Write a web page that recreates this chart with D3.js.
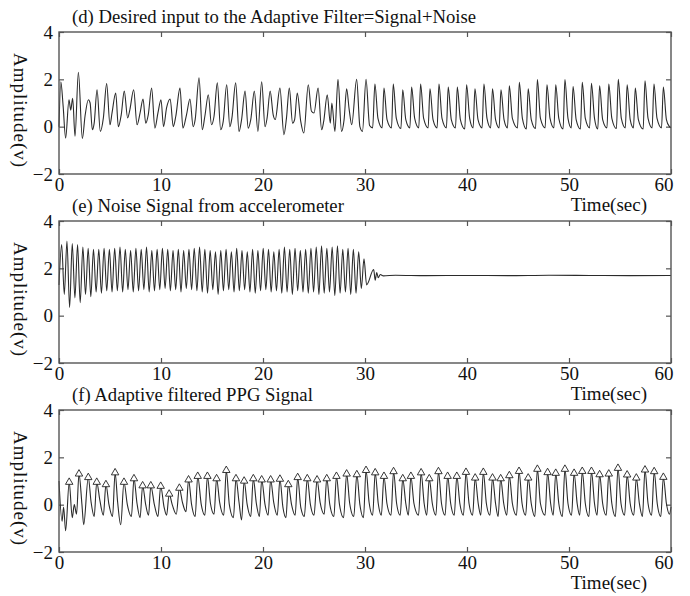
<!DOCTYPE html>
<html>
<head>
<meta charset="utf-8">
<script src="https://cdn.jsdelivr.net/npm/d3@7"></script>
<style>
  body { margin: 0; background: #fff; }
  text { font-family: "Liberation Serif", "Times New Roman", serif; fill: #111; }
</style>
</head>
<body>
<div id="chart"></div>
<script>
// ---- data ----
const xTicks = [0, 10, 20, 30, 40, 50, 60];
const yTicks = [-2, 0, 2, 4];
const panelTitles = [
    "(d) Desired input to the Adaptive Filter=Signal+Noise",
    "(e) Noise Signal from accelerometer",
    "(f) Adaptive filtered PPG Signal"
];
const yLabel = "Amplitude(v)";
const xLabel = "Time(sec)";

// (d) signal + noise, [time, amplitude] turning points
const desiredInput = [
    [0,0.0],[0.18,1.9],[0.4,0.9],[0.65,-0.48],[0.98,1.14],[1.15,0.7],[1.34,1.2],[1.57,-0.4],[1.9,2.3],[2.29,-0.5],
    [2.55,0.44],[2.88,1.14],[3.05,1.0],[3.27,-0.13],[3.45,0.15],[3.73,1.56],[4.05,-0.2],[4.35,0.37],[4.67,1.82],[5.0,0.08],
    [5.2,0.58],[5.56,1.42],[5.82,0.0],[6.1,0.5],[6.4,1.5],[6.73,0.37],[6.95,0.72],[7.32,1.56],[7.65,0.08],[7.95,0.58],
    [8.24,1.17],[8.5,0.15],[8.75,0.5],[9.08,1.63],[9.4,-0.06],[9.7,0.58],[10.0,1.14],[10.25,0.0],[10.55,0.8],[10.9,1.17],
    [11.2,0.0],[11.45,0.44],[11.86,1.63],[12.15,-0.06],[12.5,0.5],[12.84,1.17],[13.15,0.0],[13.35,0.3],[13.73,2.06],[14.05,-0.13],
    [14.3,0.44],[14.64,1.35],[14.95,0.08],[15.2,0.44],[15.52,1.85],[15.85,-0.13],[16.1,0.22],[16.44,1.77],[16.75,0.0],[16.95,0.36],
    [17.32,1.85],[17.65,-0.2],[17.9,0.3],[18.24,1.5],[18.55,-0.06],[18.8,0.3],[19.15,1.5],[19.5,-0.2],[19.87,1.9],[20.2,0.0],
    [20.4,0.36],[20.7,1.5],[21.0,0.5],[21.2,0.3],[21.66,1.63],[22.05,-0.34],[22.3,0.36],[22.58,1.63],[22.9,0.15],[23.1,0.3],
    [23.36,1.42],[23.7,0.22],[24.0,-0.27],[24.44,1.77],[24.75,0.65],[25.0,0.58],[25.4,1.63],[25.75,-0.13],[25.95,0.22],[26.3,1.35],
    [26.6,0.15],[26.75,1.0],[27.05,-0.2],[27.35,2.0],[27.7,-0.2],[27.95,0.3],[28.2,1.6],[28.45,0.72],[28.7,0.08],[29.18,2.0],
    [29.5,0.0],[29.75,-0.2],[30.1,2.0],[30.45,0.05],[30.75,-0.05],
    [30.97,1.8],[31.27,0.35],[31.68,-0.05],[31.86,1.63],[32.16,0.3],[32.6,-0.05],[32.77,1.8],[33.07,0.35],[33.52,-0.08],
    [33.7,1.56],[34.0,0.3],[34.4,-0.05],[34.57,1.67],[34.87,0.35],[35.27,-0.05],[35.45,1.8],[35.75,0.35],[36.19,-0.05],
    [36.37,1.6],[36.67,0.3],[37.07,-0.05],[37.25,1.8],[37.55,0.35],[37.98,-0.05],[38.16,1.67],[38.46,0.3],[38.87,-0.05],
    [39.05,1.67],[39.35,0.3],[39.78,-0.1],[39.96,1.77],[40.26,0.35],[40.6,-0.05],[40.78,1.6],[41.08,0.3],[41.48,-0.05],
    [41.66,1.8],[41.96,0.35],[42.32,-0.05],[42.5,1.6],[42.8,0.3],[43.15,-0.05],[43.33,1.56],[43.63,0.3],[43.97,-0.05],
    [44.15,1.73],[44.45,0.35],[44.95,-0.05],[45.13,1.87],[45.43,0.35],[45.82,-0.1],[46.0,1.6],[46.3,0.3],[46.72,-0.08],
    [46.9,1.99],[47.2,0.35],[47.66,-0.05],[47.84,1.77],[48.14,0.35],[48.52,-0.05],[48.7,1.77],[49.0,0.35],[49.42,-0.1],
    [49.6,1.99],[49.9,0.35],[50.22,-0.05],[50.4,1.7],[50.7,0.3],[51.12,-0.1],[51.3,1.87],[51.6,0.35],[52.02,-0.05],
    [52.2,1.83],[52.5,0.35],[52.82,-0.1],[53.0,1.73],[53.3,0.3],[53.72,-0.05],[53.9,1.8],[54.2,0.35],[54.65,-0.08],
    [54.83,2.0],[55.13,0.35],[55.52,-0.05],[55.7,1.77],[56.0,0.3],[56.32,-0.05],[56.5,1.63],[56.8,0.3],[57.27,-0.1],
    [57.45,1.94],[57.75,0.35],[58.15,-0.05],[58.33,1.8],[58.63,0.35],[59.07,-0.05],[59.25,1.67],[59.55,0.3],[59.85,0.0],[60,-0.05]
];

// (e) accelerometer noise: alternating extremes, sampled every half cycle
const noiseDt = 0.26;
const noiseExtremes = [
    1.3, 3.0, 0.9, 3.15, 0.35, 3.05, 0.75, 3.0, 0.55, 2.9, 0.9, 2.85, 0.8, 2.8, 1.0, 2.8, 0.95, 2.85, 1.05,
    2.8, 1.0, 2.85, 1.05, 2.9, 1.0, 2.8, 1.1, 2.75, 1.0, 2.85, 1.05, 2.8, 1.1, 2.9, 1.0, 2.75, 1.05, 2.8, 1.1,
    2.85, 1.15, 2.8, 1.05, 2.75, 1.1, 2.8, 1.0, 2.75, 1.15, 2.8, 1.1, 2.85, 1.05, 2.9, 1.0, 2.8, 0.95, 2.75, 1.1,
    2.7, 0.9, 2.75, 1.05, 2.8, 1.1, 2.7, 1.0, 2.85, 1.05, 2.75, 1.1, 2.7, 1.0, 2.8, 0.95, 2.75, 1.05, 2.85, 1.1,
    2.8, 1.0, 2.7, 1.05, 2.8, 0.95, 2.9, 1.0, 2.8, 0.9, 2.85, 1.05, 2.75, 1.0, 2.8, 0.95, 2.85, 1.0, 2.9, 0.9,
    2.95, 0.95, 2.85, 1.0, 2.9, 0.85, 2.95, 0.95, 2.8, 1.0, 2.85, 0.9, 2.8, 0.95, 2.7, 1.15, 2.4, 1.3
];
const noiseTail = [
    [30.85,1.95],[31.0,1.5],[31.15,1.82],[31.3,1.6],[31.5,1.74],[31.8,1.68],[33,1.71],[36,1.69],
    [40,1.7],[44,1.69],[48,1.71],[52,1.7],[56,1.69],[60,1.7]
];

// (f) adaptive filtered PPG: detected peaks (triangles) and the valleys between them
const peakTimes = [
    1.0, 1.96, 2.87, 3.7, 4.6, 5.5, 6.37, 7.35, 8.2, 9.0, 9.97, 10.8, 11.8, 12.7, 13.6, 14.55, 15.45, 16.4,
    17.35, 18.15, 19.05, 19.87, 20.75, 21.66, 22.48, 23.4, 24.34, 25.3, 26.25, 27.2, 28.2, 29.2, 30.1, 31.0,
    31.86, 32.8, 33.7, 34.5, 35.5, 36.3, 37.2, 38.1, 39.0, 39.9, 40.8, 41.6, 42.5, 43.3, 44.15, 45.1, 46.0,
    46.9, 47.9, 48.7, 49.6, 50.5, 51.3, 52.2, 53.0, 53.9, 54.8, 55.7, 56.6, 57.45, 58.35, 59.25
];
const peakValues = [
    0.95, 1.3, 1.15, 0.95, 0.85, 1.35, 0.95, 1.1, 0.8, 0.8, 0.78, 0.45, 0.7, 1.05, 1.2, 1.2, 1.1, 1.45,
    1.1, 1.0, 1.1, 1.05, 1.05, 1.08, 0.85, 1.15, 1.1, 1.05, 1.1, 1.2, 1.3, 1.27, 1.45, 1.35,
    1.2, 1.4, 1.1, 1.2, 1.35, 1.1, 1.4, 1.2, 1.2, 1.37, 1.13, 1.37, 1.13, 1.1, 1.23, 1.41, 1.13,
    1.5, 1.36, 1.33, 1.5, 1.33, 1.41, 1.41, 1.27, 1.3, 1.54, 1.26, 1.13, 1.47, 1.4, 1.16
];
const filteredValleys = [
    [0,1.0],[0.3,-0.7],[0.45,-0.1],[0.65,-1.1],[1.3,-0.55],[1.5,0.0],[1.72,-0.4],[2.25,0.0],[2.42,-0.85],
    [3.15,0.1],[3.45,-0.5],[4.0,0.2],[4.35,-0.45],[4.9,0.0],[5.25,-0.5],[5.75,0.1],[6.05,-0.85],[6.7,0.0],[7.1,-0.5],
    [7.65,0.05],[7.95,-0.55],[8.5,0.0],[8.78,-0.45],[9.35,0.0],[9.7,-0.5],[10.3,-0.1],[10.55,-0.45],[11.1,0.0],[11.5,-0.4],
    [12.1,0.1],[12.45,-0.3],[13.0,0.0],[13.35,-0.5],[13.95,0.0],[14.3,-0.45],[14.85,0.05],[15.2,-0.4],[15.75,0.1],[16.15,-0.45],
    [16.7,0.0],[17.1,-0.55],[17.65,0.1],[17.9,-0.65],[18.45,0.0],[18.8,-0.5],[19.35,0.05],[19.65,-0.5],[20.2,0.0],[20.5,-0.45],
    [21.05,0.1],[21.4,-0.45],[21.95,-0.1],[22.25,-0.55],[22.8,0.0],[23.15,-0.45],[23.7,-0.1],[24.05,-0.5],[24.65,0.0],[25.0,-0.45],
    [25.6,0.1],[26.0,-0.4],[26.55,0.0],[26.95,-0.5],[27.5,0.0],[27.9,-0.55],[28.5,0.05],[28.9,-0.5],[29.5,0.0],[29.85,-0.55],
    [30.4,0.1],[30.75,-0.45],[31.3,0.05],[31.6,-0.45],[32.15,0.05],[32.55,-0.45],[33.1,0.05],[33.45,-0.45],[34.0,0.05],[34.25,-0.45],
    [34.8,0.05],[35.25,-0.45],[35.8,0.05],[36.05,-0.45],[36.6,0.05],[36.95,-0.45],[37.5,0.05],[37.85,-0.45],[38.4,0.05],[38.75,-0.45],
    [39.3,0.05],[39.65,-0.45],[40.2,0.05],[40.55,-0.45],[41.1,0.05],[41.35,-0.45],[41.9,0.05],[42.25,-0.45],[42.8,0.05],[43.05,-0.5],
    [43.6,0.05],[43.9,-0.45],[44.45,0.05],[44.85,-0.45],[45.4,0.05],[45.75,-0.45],[46.3,0.05],[46.65,-0.5],[47.2,0.05],[47.65,-0.45],
    [48.2,0.05],[48.45,-0.45],[49.0,0.05],[49.35,-0.5],[49.9,0.05],[50.25,-0.45],[50.8,0.05],[51.05,-0.45],[51.6,0.05],[51.95,-0.5],
    [52.5,0.05],[52.75,-0.45],[53.3,0.05],[53.65,-0.45],[54.2,0.05],[54.55,-0.5],[55.1,0.05],[55.45,-0.45],[56.0,0.05],[56.35,-0.45],
    [56.9,0.05],[57.2,-0.5],[57.75,0.05],[58.1,-0.45],[58.65,0.05],[59.0,-0.5],[59.55,0.05],[59.85,-0.4],[60,-0.1]
];

// ---- build series ----
const noiseSeries = noiseExtremes.map((v, i) => [i * noiseDt, v]).concat(noiseTail);
const peakPoints = peakTimes.map((t, i) => [t, peakValues[i]]);
const filteredSeries = peakPoints.concat(filteredValleys).sort((a, b) => a[0] - b[0]);

// ---- layout ----
const svgWidth = 690, svgHeight = 596;
const plotLeft = 59, plotRight = 671, plotHeight = 142;
const panelTops = [32, 221, 410];
const frameColor = "#555";

const svg = d3.select("#chart").append("svg")
    .attr("width", svgWidth)
    .attr("height", svgHeight);

const xScale = d3.scaleLinear().domain([0, 60]).range([plotLeft, plotRight]);

function drawPanel(top, title, series, markers) {
    const bottom = top + plotHeight;
    const yScale = d3.scaleLinear().domain([-2, 4]).range([bottom, top]);
    const g = svg.append("g");

    // ticks (inward, all four sides)
    const styleAxis = sel => {
        sel.select(".domain").remove();
        sel.selectAll(".tick line").attr("stroke", frameColor).attr("stroke-width", 1.2);
        sel.selectAll(".tick text").style("font-size", "19px").attr("fill", "#111");
    };

    g.append("g")
        .attr("transform", `translate(0,${bottom})`)
        .call(d3.axisBottom(xScale).tickValues(xTicks).tickSize(-5).tickPadding(4).tickFormat(d3.format("d")))
        .call(styleAxis)
        .call(sel => sel.selectAll(".tick text").filter(d => d === 60)
            .attr("text-anchor", "end").attr("dx", "2px"));

    g.append("g")
        .attr("transform", `translate(0,${top})`)
        .call(d3.axisTop(xScale).tickValues(xTicks).tickSize(-5).tickFormat(""))
        .call(styleAxis);

    g.append("g")
        .attr("transform", `translate(${plotLeft},0)`)
        .call(d3.axisLeft(yScale).tickValues(yTicks).tickSize(-5).tickPadding(6).tickFormat(d3.format("d")))
        .call(styleAxis);

    g.append("g")
        .attr("transform", `translate(${plotRight},0)`)
        .call(d3.axisRight(yScale).tickValues(yTicks).tickSize(-5).tickFormat(""))
        .call(styleAxis);

    // trace
    const line = d3.line()
        .x(d => xScale(d[0]))
        .y(d => yScale(d[1]))
        .curve(d3.curveMonotoneX);

    g.append("path")
        .datum(series)
        .attr("d", line)
        .attr("fill", "none")
        .attr("stroke", "#2b2b2b")
        .attr("stroke-width", 1.1)
        .attr("stroke-linejoin", "round");

    if (markers) {
        g.selectAll(".peak")
            .data(markers)
            .enter()
            .append("path")
            .attr("class", "peak")
            .attr("d", d3.symbol(d3.symbolTriangle, 24))
            .attr("transform", d => `translate(${xScale(d[0])},${yScale(d[1])})`)
            .attr("fill", "#fff")
            .attr("stroke", "#222")
            .attr("stroke-width", 0.9);
    }

    // frame
    g.append("rect")
        .attr("x", plotLeft)
        .attr("y", top)
        .attr("width", plotRight - plotLeft)
        .attr("height", plotHeight)
        .attr("fill", "none")
        .attr("stroke", frameColor)
        .attr("stroke-width", 1.4);

    // title
    g.append("text")
        .attr("x", 72)
        .attr("y", top - 9)
        .style("font-size", "18.7px")
        .text(title);

    // y axis label, reading downward
    g.append("text")
        .attr("transform", `translate(14,${top + 78}) rotate(90)`)
        .style("text-anchor", "middle")
        .style("font-size", "19px")
        .attr("textLength", 114)
        .attr("lengthAdjust", "spacing")
        .text(yLabel);

    // x axis label
    g.append("text")
        .attr("x", 647)
        .attr("y", bottom + 37)
        .style("text-anchor", "end")
        .style("font-size", "19px")
        .text(xLabel);
}

drawPanel(panelTops[0], panelTitles[0], desiredInput, null);
drawPanel(panelTops[1], panelTitles[1], noiseSeries, null);
drawPanel(panelTops[2], panelTitles[2], filteredSeries, peakPoints);
</script>
</body>
</html>
